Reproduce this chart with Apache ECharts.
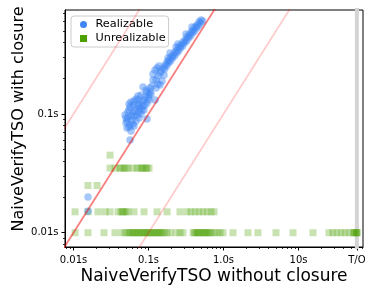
<!DOCTYPE html>
<html><head><meta charset="utf-8">
<script src="https://cdn.jsdelivr.net/npm/echarts@6/dist/echarts.min.js"></script>
<style>html,body{margin:0;padding:0;background:#fff}#c{width:375px;height:294px}</style>
</head><body><div id="c"></div>
<script>
// Realizable (blue circles)
const realX = [0.501,0.471,0.443,0.417,0.392,0.369,0.347,0.326,0.307,0.288,0.271,0.255,0.240,0.2256,0.212,0.1995,0.1877,0.1766,0.166,0.156,0.147,
  0.1936,0.247,0.316,0.380,0.233,0.182,0.1423,0.134,0.1222,0.13,0.1148,0.1514,0.134,0.1148,
  0.1047,0.0927,0.0845,0.0794,0.0898,0.1016,0.0724,0.0819,0.0955,0.1222,0.0621,0.0681,0.0771,0.0871,0.0567,0.0533,0.0621,0.0703,0.0794,
  0.0533,0.0603,0.0681,0.0501,0.0567,0.0641,0.0517,0.0584,0.0567,0.0955,0.0486,0.0724,0.1047,0.1114,
  0.0747,0.0661,0.0584,0.0845,0.0156,0.0156,
  0.055,0.0641,0.0747,0.0501,0.0584,0.0871,0.0985,0.0681,0.138,0.161,0.126,
  0.526,0.495,0.465,0.438,0.412,0.387,0.364,0.342,0.322,0.302,0.285,0.268,0.252,0.237,0.223,0.209,0.197,0.185,0.174,0.164,
  0.055,0.0641,0.0724,0.0819,0.0517,0.0621,0.055,0.0747,0.0898,0.1016,0.108,0.126,0.1423,0.0955];
const realY = [0.619,0.596,0.562,0.540,0.510,0.491,0.463,0.445,0.420,0.404,0.381,0.367,0.346,0.333,0.314,0.302,0.285,0.274,0.259,0.244,0.230,
  0.327,0.389,0.472,0.540,0.367,0.296,0.2215,0.209,0.235,0.244,0.217,0.190,0.179,0.193,
  0.1656,0.159,0.169,0.1446,0.139,0.1446,0.1312,0.1262,0.1238,0.1312,0.119,0.1124,0.1124,0.108,0.1146,0.104,0.102,0.098,0.100,
  0.0925,0.089,0.0873,0.084,0.0808,0.0793,0.0762,0.0719,0.0604,0.0908,0.098,0.1418,0.153,0.172,
  0.1214,0.106,0.0962,0.1168,0.020,0.0152,
  0.108,0.0962,0.104,0.0925,0.1262,0.1312,0.1364,0.1338,0.254,0.213,0.193,
  0.607,0.584,0.551,0.529,0.500,0.481,0.454,0.436,0.412,0.396,0.373,0.360,0.339,0.326,0.308,0.296,0.279,0.269,0.254,0.239,
  0.1214,0.1287,0.1168,0.108,0.0873,0.0824,0.0777,0.0925,0.119,0.1312,0.1474,0.1656,0.1754,0.153];

// Unrealizable (green squares), grouped by y value
const unrealRowY = [0.01, 0.015, 0.025, 0.035, 0.045];
const unrealRowX = [
  [0.0105,0.0156,0.0255,0.0357,0.0443,0.0486,0.0533,0.0555,0.0584,0.0615,0.0641,0.0675,0.0703,0.074,0.0771,0.081,0.0845,0.089,0.0927,0.097,0.1016,0.106,0.1114,0.117,0.1222,0.128,0.134,0.14,0.147,0.154,0.161,0.1766,0.1936,0.233,0.263,0.288,
   0.392,0.41,0.43,0.45,0.471,0.49,0.517,0.54,0.567,0.59,0.621,0.65,0.681,0.747,0.819,0.898,0.985,1.34,2.12,2.88,5.01,8.45,15.6,25.5,28.8,32.6,36.9,41.7,47.1,53.3,55,57,60,60,60],
  [0.0105,0.0156,0.0212,0.0263,0.0307,0.0392,0.043,0.045,0.0471,0.05,0.0533,0.0641,0.0871,0.13,0.1766,0.263,0.326,0.369,0.417,0.471,0.533,0.603,0.681,0.747],
  [0.0156,0.0206],
  [0.0307,0.0357,0.0417,0.043,0.0471,0.05,0.0533,0.0621,0.0703,0.0771,0.082,0.0845,0.0927,0.095,0.1016],
  [0.0307]
];

const xTickValues = [0.01, 0.1, 1, 10, 60];
const xTickLabels = ['0.01s', '0.1s', '1.0s', '10s', 'T/O'];
const xMinorTicks = [0.008,0.009,0.02,0.03,0.04,0.05,0.06,0.07,0.08,0.09,0.2,0.3,0.4,0.5,0.6,0.7,0.8,0.9,2,3,4,5,6,7,8,9,20,30,40,50,70];
const yTickValues = [0.01, 0.1];
const yTickLabels = ['0.01s', '0.1s'];
const yMinorTicks = [0.008,0.009,0.02,0.03,0.04,0.05,0.06,0.07,0.08,0.09,0.2,0.3,0.4,0.5,0.6,0.7];
const timeoutValue = 60;
const ratioMain = 1;
const ratioGuides = [10, 0.1];

const XMIN = 0.0077, XMAX = 72.4, YMIN = 0.00758, YMAX = 0.7516;
const FONT = 'DejaVu Sans';

function labelFor(vals, labs) {
  return function (v) {
    for (let i = 0; i < vals.length; i++) {
      if (Math.abs(Math.log10(vals[i]) - Math.log10(v)) < 1e-6) return labs[i];
    }
    return '';
  };
}

const realData = realX.map((x, i) => [x, realY[i]]);
const unrealData = [];
unrealRowX.forEach((row, r) => row.forEach(x => unrealData.push([x, unrealRowY[r]])));

function ratioLine(r) {
  return [[XMIN / 100, r * XMIN / 100], [XMAX * 100, r * XMAX * 100]];
}

const chart = echarts.init(document.getElementById('c'), null, {renderer: 'canvas'});
const blueFill = 'rgba(63,134,245,0.58)', greenFill = 'rgba(76,160,0,0.38)';
const blueSolid = '#3f86f5', greenSolid = '#4ca000';

const axisCommonX = {type: 'log', logBase: 10, min: XMIN, max: XMAX, splitLine: {show: false}, position: 'bottom'};
const axisCommonY = {type: 'log', logBase: 10, min: YMIN, max: YMAX, splitLine: {show: false}, position: 'left'};

chart.setOption({
  animation: false,
  textStyle: {fontFamily: FONT},
  grid: {left: 65, right: 12, top: 10, bottom: 47, show: true, borderColor: '#000', borderWidth: 1, backgroundColor: 'transparent'},
  xAxis: [
    Object.assign({}, axisCommonX, {
      axisLine: {show: true, lineStyle: {color: '#000', width: 1}},
      axisTick: {show: true, length: 3.5, lineStyle: {color: '#000', width: 1}, customValues: xTickValues},
      axisLabel: {show: true, customValues: xTickValues, formatter: labelFor(xTickValues, xTickLabels), fontSize: 10, color: '#000', margin: 8, fontFamily: FONT}
    }),
    Object.assign({}, axisCommonX, {
      axisLine: {show: false},
      axisTick: {show: true, length: 2, lineStyle: {color: '#000', width: 0.8}, customValues: xMinorTicks},
      axisLabel: {show: false}
    })
  ],
  yAxis: [
    Object.assign({}, axisCommonY, {
      axisLine: {show: true, lineStyle: {color: '#000', width: 1}},
      axisTick: {show: true, length: 3.5, lineStyle: {color: '#000', width: 1}, customValues: yTickValues},
      axisLabel: {show: true, customValues: yTickValues, formatter: labelFor(yTickValues, yTickLabels), fontSize: 10, color: '#000', margin: 6.5, fontFamily: FONT}
    }),
    Object.assign({}, axisCommonY, {
      axisLine: {show: false},
      axisTick: {show: true, length: 2, lineStyle: {color: '#000', width: 0.8}, customValues: yMinorTicks},
      axisLabel: {show: false}
    })
  ],
  legend: {
    orient: 'vertical', left: 71, top: 16,
    padding: [3, 3, 3, 9], itemGap: 3, itemWidth: 14, itemHeight: 7,
    backgroundColor: '#fff', borderColor: '#cccccc', borderWidth: 1, borderRadius: 3,
    textStyle: {fontSize: 11.3, color: '#000', fontFamily: FONT},
    symbolKeepAspect: true,
    data: [
      {name: 'Realizable', icon: 'circle', itemStyle: {color: blueSolid, opacity: 1, borderWidth: 0}},
      {name: 'Unrealizable', icon: 'path://M0,0L10,0L10,10L0,10Z', itemStyle: {color: greenSolid, opacity: 1, borderWidth: 0}}
    ]
  },
  graphic: [
    {type: 'text', x: 214, y: 277, style: {text: 'NaiveVerifyTSO without closure', font: '17px "DejaVu Sans"', fill: '#000', textAlign: 'center', textVerticalAlign: 'middle'}},
    {type: 'text', x: 19, y: 119, rotation: Math.PI / 2, style: {text: 'NaiveVerifyTSO with closure', font: '16px "DejaVu Sans"', fill: '#000', textAlign: 'center', textVerticalAlign: 'middle'}}
  ],
  series: [
    {type: 'line', name: 'timeout', data: [[timeoutValue, YMIN / 10], [timeoutValue, YMAX * 10]], symbol: 'none', silent: true,
     lineStyle: {color: '#d4d4d4', width: 4}, z: 1, clip: true},
    {type: 'scatter', name: 'Unrealizable', data: unrealData, symbol: 'rect', symbolSize: 7,
     itemStyle: {color: greenFill, borderWidth: 0, borderColor: 'rgba(0,0,0,0)'}, z: 3},
    {type: 'scatter', name: 'Realizable', data: realData, symbol: 'circle', symbolSize: 7.5,
     itemStyle: {color: blueFill, borderWidth: 0, borderColor: 'rgba(0,0,0,0)'}, z: 4},
    {type: 'line', name: 'y=x', data: ratioLine(ratioMain), symbol: 'none', silent: true, clip: true,
     lineStyle: {color: 'rgba(240,0,0,0.5)', width: 1.8}, z: 5},
    {type: 'line', name: 'y=10x', data: ratioLine(ratioGuides[0]), symbol: 'none', silent: true, clip: true,
     lineStyle: {color: 'rgba(255,0,0,0.2)', width: 1.8}, z: 5},
    {type: 'line', name: 'y=x/10', data: ratioLine(ratioGuides[1]), symbol: 'none', silent: true, clip: true,
     lineStyle: {color: 'rgba(255,0,0,0.2)', width: 1.8}, z: 5}
  ]
});
</script></body></html>
